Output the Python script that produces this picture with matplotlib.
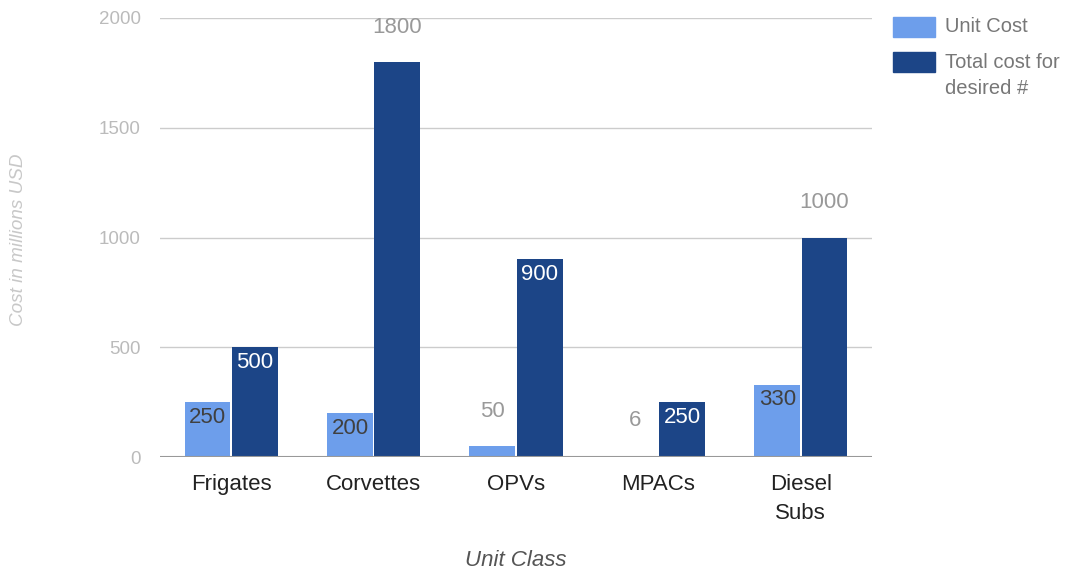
import numpy as np
import matplotlib.pyplot as plt
from matplotlib.patches import Rectangle

plt.rcParams['font.family'] = ['Liberation Sans', 'DejaVu Sans']

categories = ['Frigates', 'Corvettes', 'OPVs', 'MPACs', 'Diesel\nSubs']
unit_cost = [250, 200, 50, 6, 330]
total_cost = [500, 1800, 900, 250, 1000]
series_names = ['Unit Cost', 'Total cost for\ndesired #']

# where the value label goes (inside the bar top or above it)
unit_inside = [True, True, False, False, True]
total_inside = [True, False, True, True, False]

LIGHT = '#6d9eeb'
DARK = '#1c4587'

fig = plt.figure(figsize=(10.7, 5.71), dpi=100)
ax = fig.add_axes([0.1495, 0.1996, 0.6655, 0.7689])

idx = np.arange(len(categories))
w = 0.322
b1 = ax.bar(idx - w / 2 - 0.005, unit_cost, w, color=LIGHT, zorder=3)
b2 = ax.bar(idx + w / 2 + 0.005, total_cost, w, color=DARK, zorder=3)


def label_bars(bars, values, inside, in_color):
    for bar, v, ins in zip(bars, values, inside):
        x = bar.get_x() + bar.get_width() / 2
        if ins:
            ax.annotate(str(v), (x, v), xytext=(0, -11), textcoords='offset points',
                        ha='center', va='center', fontsize=16, color=in_color, zorder=4)
        else:
            ax.annotate(str(v), (x, v), xytext=(0, 25), textcoords='offset points',
                        ha='center', va='center', fontsize=16, color='#999999', zorder=4)


label_bars(b1, unit_cost, unit_inside, '#404040')
label_bars(b2, total_cost, total_inside, 'white')

ax.set_xlim(-0.5, len(categories) - 0.5)
ax.set_ylim(0, 2000)
ax.set_yticks([0, 500, 1000, 1500, 2000])
ax.grid(axis='y', color='#cccccc', linewidth=1, zorder=0)
ax.axhline(0, color='#999999', linewidth=1.5, zorder=5)
for s in ax.spines.values():
    s.set_visible(False)

ax.set_xticks(idx)
ax.set_xticklabels(categories, fontsize=16, color='#222222', linespacing=1.5)
ax.tick_params(axis='x', length=0, pad=12)
ax.tick_params(axis='y', length=0, pad=14, labelsize=13.5, labelcolor='#bbbbbb')

ax.set_xlabel('Unit Class', fontsize=16, style='italic', color='#555555', labelpad=19)
fig.text(0.017, 0.58, 'Cost in millions USD', rotation=90, fontsize=13.6,
         style='italic', color='#c8c8c8', ha='center', va='center')

# legend drawn by hand so the swatch lines up with the first text line
sw_x, sw_w, sw_h = 893 / 1070, 42 / 1070, 20 / 571
rows_top = [17 / 571, 52 / 571]
for name, col, top in zip(series_names, [LIGHT, DARK], rows_top):
    y_top = 1 - top
    fig.patches.append(Rectangle((sw_x, y_top - sw_h), sw_w, sw_h, color=col,
                                 transform=fig.transFigure, figure=fig))
    for j, line in enumerate(name.split('\n')):
        fig.text(945 / 1070, y_top - sw_h / 2 - j * 27 / 571, line, fontsize=14.5,
                 color='#777777', ha='left', va='center')

plt.savefig('out.png', dpi=100)
